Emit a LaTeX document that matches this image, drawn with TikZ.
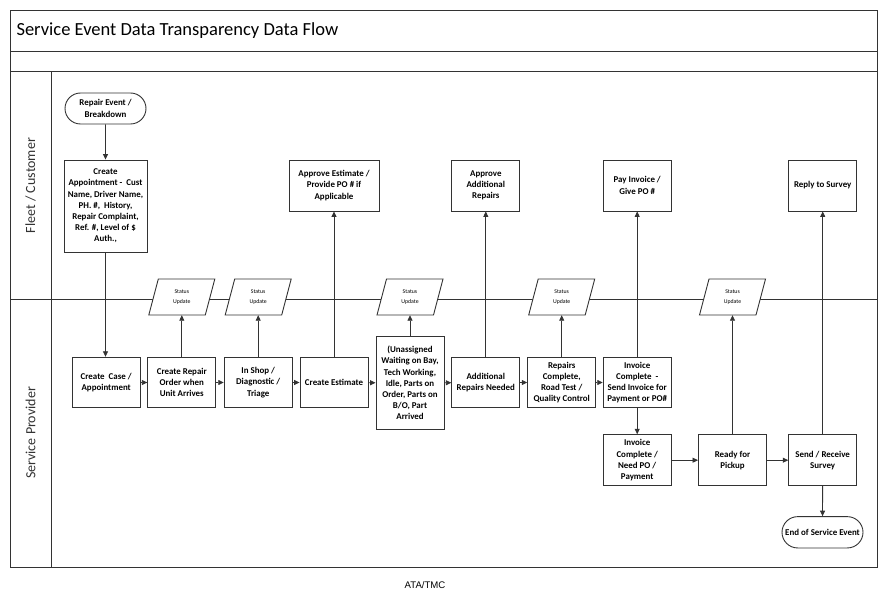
\documentclass[tikz,border=0pt]{standalone}
\usepackage{fontspec}
\setmainfont{Carlito}
\newfontfamily\arialfont{Liberation Sans}
\usetikzlibrary{arrows.meta,shapes.misc,calc}
\definecolor{linec}{HTML}{333333}
\begin{document}
\begin{tikzpicture}[x=1pt,y=1pt,
  frame/.style={draw=linec,line width=1pt},
  box/.style={draw=linec,line width=0.9pt,fill=white,align=center,inner sep=1pt,
    font=\fontsize{8.9}{11.2}\selectfont\bfseries,text=black},
  sz/.style 2 args={minimum width=#1,minimum height=#2},
  term/.style={box,rounded rectangle,rounded rectangle arc length=180},
  flow/.style={draw=linec,line width=0.8pt,-{Triangle[length=5.5,width=5]}},
  sushape/.style={draw=linec,line width=0.9pt,fill=white},
  sutxt/.style={font=\fontsize{5.8}{10}\selectfont,align=center,inner sep=0,text=black,
    minimum width=50,minimum height=36},
  lane/.style={font=\fontsize{14}{16}\selectfont,text=linec,rotate=90}
]
\useasboundingbox (0,0) rectangle (888,598);
% frame
\draw[frame] (10,587.3) rectangle (877.5,31);
\draw[frame] (10,546.3) -- (877.5,546.3);
\draw[frame] (10,526) -- (877.5,526);
\draw[frame] (51,526) -- (51,31);
\draw[frame] (10,299) -- (877.5,299);
\node[anchor=west,font=\fontsize{18.5}{21}\selectfont,text=black] (title) at (13,567) {Service Event Data Transparency Data Flow};
\node[lane] (lfc) at (30.5,412.5) {Fleet / Customer};
\node[lane] (lsp) at (30.5,165) {Service Provider};
% status update shapes
\foreach \n/\x in {su1/181.8,su2/258.2,su3/410,su4/561.7,su5/732.5}{
  \draw[sushape] (\x-33,283) -- (\x+23.5,283) -- (\x+33,319) -- (\x-23.5,319) -- cycle;
  \node[sutxt] (\n) at (\x,301) {Status\\Update};
}
% fleet lane
\node[term,sz={83}{31}] (re) at (105.5,489.5) {Repair Event /\\Breakdown};
\node[box,sz={83}{92}] (ca) at (105.5,392) {\raisebox{4pt}{\begin{tabular}{@{}c@{}}Create\\Appointment -\ \ Cust\\Name, Driver Name,\\PH. \#,\ \ History,\\Repair Complaint,\\Ref. \#, Level of \$\\Auth.,\end{tabular}}};
\node[box,sz={90}{51}] (ae) at (334,412.5) {Approve Estimate /\\Provide PO \# if\\Applicable};
\node[box,sz={68}{51}] (aar) at (485.8,412.5) {Approve\\Additional\\Repairs};
\node[box,sz={68}{51}] (pi) at (637.2,412.5) {Pay Invoice /\\Give PO \#};
\node[box,sz={68}{51}] (rs) at (822.7,412.5) {Reply to Survey};
% provider lane
\node[box,sz={68}{50.5}] (cc) at (106.2,215.5) {Create\ \ Case /\\Appointment};
\node[box,sz={68}{50.5}] (cro) at (181.8,215.5) {Create Repair\\Order when\\Unit Arrives};
\node[box,sz={68}{50.5}] (is) at (258.2,215.5) {In Shop /\\Diagnostic /\\Triage};
\node[box,sz={68}{50.5}] (cest) at (334,215.5) {Create Estimate};
\node[box,sz={68}{92.3}] (un) at (410,215) {(Unassigned\\Waiting on Bay,\\Tech Working,\\Idle, Parts on\\Order, Parts on\\B/O, Part\\Arrived};
\node[box,sz={68}{50.5}] (arn) at (485.8,215.5) {Additional\\Repairs Needed};
\node[box,sz={68}{50.5}] (rc) at (561.7,215.5) {Repairs\\Complete,\\Road Test /\\Quality Control};
\node[box,sz={68}{50.5}] (ic) at (637.2,215.5) {Invoice\\Complete\ \ -\\Send Invoice for\\Payment or PO\#};
\node[box,sz={68}{51}] (np) at (637.2,137.8) {Invoice\\Complete /\\Need PO /\\Payment};
\node[box,sz={68}{51}] (rp) at (732.5,137.8) {Ready for\\Pickup};
\node[box,sz={68}{51}] (sr) at (822.7,137.8) {Send / Receive\\Survey};
\node[term,sz={83}{31.3}] (es) at (822.5,65.7) {End of Service Event};
% footer
\node[font=\arialfont\fontsize{9.6}{11}\selectfont,text=black] (foot) at (425,13) {ATA/TMC};
% connectors
\draw[flow] (re) -- (ca);
\draw[flow] (ca.south) -- (ca.south |- cc.north);
\draw[flow] (cc) -- (cro);
\draw[flow] (cro) -- (is);
\draw[flow] (is) -- (cest);
\draw[flow] (cest) -- (un);
\draw[flow] (un) -- (arn);
\draw[flow] (arn) -- (rc);
\draw[flow] (rc) -- (ic);
\draw[flow] (cro) -- (su1);
\draw[flow] (is) -- (su2);
\draw[flow] (un) -- (su3);
\draw[flow] (rc) -- (su4);
\draw[flow] (rp) -- (su5);
\draw[flow] (cest) -- (ae);
\draw[flow] (arn) -- (aar);
\draw[flow] (ic) -- (pi);
\draw[flow] (ic) -- (np);
\draw[flow] (np) -- (rp);
\draw[flow] (rp) -- (sr);
\draw[flow] (sr) -- (rs);
\draw[flow] (sr) -- (es);
\end{tikzpicture}
\end{document}
